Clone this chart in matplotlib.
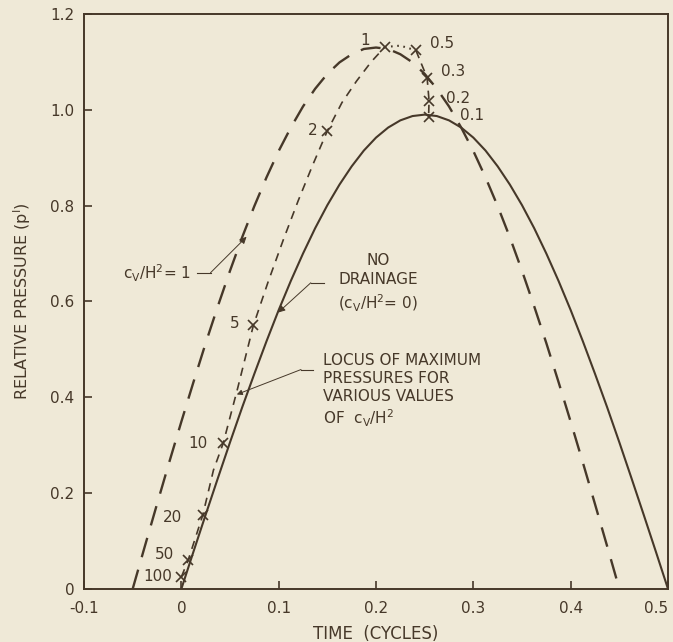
"""
Relative pressure vs time for several values of cv/H^2 (reproduced figure).
"""
import matplotlib
matplotlib.use('Agg')
import matplotlib.pyplot as plt

plt.rcParams['font.family'] = ['DejaVu Sans']
plt.rcParams['mathtext.fontset'] = 'dejavusans'

INK = '#463829'
PAPER = '#efe9d7'

# no drainage (cv/H^2 = 0)
t_nodrain = [0.0, 0.0125, 0.025, 0.0375, 0.05, 0.0625, 0.075, 0.0875, 0.1, 0.1125,
             0.125, 0.1375, 0.15, 0.1625, 0.175, 0.1875, 0.2, 0.2125, 0.225, 0.2375,
             0.25, 0.2625, 0.275, 0.2875, 0.3, 0.3125, 0.325, 0.3375, 0.35, 0.3625,
             0.375, 0.3875, 0.4, 0.4125, 0.425, 0.4375, 0.45, 0.4625, 0.475, 0.4875, 0.5]
p_nodrain = [0.0, 0.078, 0.155, 0.231, 0.306, 0.379, 0.449, 0.517, 0.582, 0.643,
             0.700, 0.753, 0.801, 0.844, 0.882, 0.915, 0.942, 0.963, 0.978, 0.987,
             0.990, 0.987, 0.978, 0.963, 0.942, 0.915, 0.882, 0.844, 0.801, 0.753,
             0.700, 0.643, 0.582, 0.517, 0.449, 0.379, 0.306, 0.231, 0.155, 0.078, 0.0]

# cv/H^2 = 1
t_c1 = [-0.05, -0.0375, -0.025, -0.0125, 0.0, 0.0125, 0.025, 0.0375, 0.05, 0.0625,
        0.075, 0.0875, 0.1, 0.1125, 0.125, 0.1375, 0.15, 0.1625, 0.175, 0.1875,
        0.2, 0.2125, 0.225, 0.2375, 0.25, 0.2625, 0.275, 0.2875, 0.3, 0.3125,
        0.325, 0.3375, 0.35, 0.3625, 0.375, 0.3875, 0.4, 0.4125, 0.425, 0.4375, 0.45]
p_c1 = [0.0, 0.089, 0.177, 0.264, 0.349, 0.432, 0.513, 0.590, 0.664, 0.734,
        0.799, 0.859, 0.914, 0.963, 1.007, 1.044, 1.075, 1.099, 1.116, 1.127,
        1.130, 1.127, 1.116, 1.099, 1.075, 1.044, 1.007, 0.963, 0.914, 0.859,
        0.799, 0.734, 0.664, 0.590, 0.513, 0.432, 0.349, 0.264, 0.177, 0.089, 0.0]

# locus of maximum pressures
t_locus = [0.0, 0.007, 0.022, 0.033, 0.043, 0.058, 0.074, 0.089, 0.105, 0.12,
           0.135, 0.15, 0.165, 0.18, 0.195, 0.209]
p_locus = [0.025, 0.06, 0.154, 0.248, 0.304, 0.42, 0.55, 0.64, 0.73, 0.81,
           0.885, 0.956, 1.015, 1.06, 1.10, 1.131]
t_locus_top = [0.209, 0.225, 0.241]
p_locus_top = [1.131, 1.134, 1.124]
t_locus_end = [0.241, 0.2525, 0.2545, 0.254]
p_locus_end = [1.124, 1.067, 1.019, 0.984]

# marked points and their cv/H^2 values
cross_t = [0.0, 0.007, 0.022, 0.043, 0.074, 0.15, 0.209, 0.241, 0.2525, 0.2545, 0.254]
cross_p = [0.025, 0.06, 0.154, 0.304, 0.55, 0.956, 1.131, 1.124, 1.067, 1.019, 0.984]
cross_lbl = ['100', '50', '20', '10', '5', '2', '1', '0.5', '0.3', '0.2', '0.1']
lbl_t = [-0.039, -0.027, -0.019, 0.007, 0.050, 0.130, 0.189, 0.255, 0.267, 0.272, 0.286]
lbl_p = [0.025, 0.071, 0.150, 0.304, 0.554, 0.956, 1.145, 1.138, 1.079, 1.023, 0.988]

xticks = [-0.1, 0.0, 0.1, 0.2, 0.3, 0.4, 0.5]
xtick_lbl = ['-0.1', '0', '0.1', '0.2', '0.3', '0.4', '0.5']
yticks = [0.0, 0.2, 0.4, 0.6, 0.8, 1.0, 1.2]
ytick_lbl = ['0', '0.2', '0.4', '0.6', '0.8', '1.0', '1.2']

fig = plt.figure(figsize=(6.73, 6.42), dpi=100, facecolor=PAPER)
ax = fig.add_axes([0.1248, 0.0826, 0.8678, 0.8956], facecolor=PAPER)

ax.plot(t_nodrain, p_nodrain, color=INK, lw=1.5, solid_capstyle='round')
l1, = ax.plot(t_c1, p_c1, color=INK, lw=1.7)
l1.set_dashes((8.5, 5.5))
ll, = ax.plot(t_locus, p_locus, color=INK, lw=1.2)
ll.set_dashes((5, 4))
ax.plot(t_locus_top, p_locus_top, color=INK, lw=1.5, linestyle=(0, (0.8, 2.2)))
le, = ax.plot(t_locus_end, p_locus_end, color=INK, lw=1.2)
le.set_dashes((5, 3.5))
ax.plot(cross_t, cross_p, linestyle='none', marker='x', ms=7, mew=1.2, color=INK)

for s, x, y in zip(cross_lbl, lbl_t, lbl_p):
    ha = 'center' if s == '1' else 'left'
    ax.text(x, y, s, ha=ha, va='center', fontsize=11, color=INK)

# cv/H^2 = 1 label with leader
ax.text(-0.0598, 0.658, r'c$_\mathrm{V}$/H$^2$= 1', ha='left', va='center',
        fontsize=11, color=INK)
ax.plot([0.016, 0.030], [0.660, 0.660], color=INK, lw=0.8)
ax.annotate('', xy=(0.067, 0.735), xytext=(0.030, 0.660),
            arrowprops=dict(arrowstyle='-|>', color=INK, lw=0.7,
                            mutation_scale=10, shrinkA=0, shrinkB=0))

# no drainage label
ax.text(0.202, 0.637, 'NO\nDRAINAGE\n' + r'(c$_\mathrm{V}$/H$^2$= 0)', ha='center',
        va='center', fontsize=11, color=INK, linespacing=1.35)
ax.plot([0.133, 0.147], [0.639, 0.639], color=INK, lw=0.8)
ax.annotate('', xy=(0.0995, 0.577), xytext=(0.133, 0.639),
            arrowprops=dict(arrowstyle='-|>', color=INK, lw=0.7,
                            mutation_scale=10, shrinkA=0, shrinkB=0))

# locus label
ax.text(0.1454, 0.4917, 'LOCUS OF MAXIMUM\nPRESSURES FOR\nVARIOUS VALUES\n'
        + r'OF  c$_\mathrm{V}$/H$^2$', ha='left', va='top', fontsize=11, color=INK,
        linespacing=1.22)
ax.plot([0.123, 0.135], [0.458, 0.458], color=INK, lw=0.8)
ax.annotate('', xy=(0.057, 0.406), xytext=(0.123, 0.458),
            arrowprops=dict(arrowstyle='-|>', color=INK, lw=0.7,
                            mutation_scale=8, shrinkA=0, shrinkB=0))

ax.set_xlim(-0.1, 0.5)
ax.set_ylim(0, 1.2)
ax.set_xticks(xticks)
ax.set_xticklabels(xtick_lbl)
ax.set_yticks(yticks)
ax.set_yticklabels(ytick_lbl)
ax.tick_params(direction='in', length=6, width=1.2, color=INK, labelcolor=INK,
               labelsize=11)
ax.tick_params(axis='x', pad=9)
ax.tick_params(axis='y', pad=7)
ax.get_xticklabels()[-1].set_horizontalalignment('right')
for sp in ax.spines.values():
    sp.set_color(INK)
    sp.set_linewidth(1.4)

ax.set_xlabel('TIME  (CYCLES)', fontsize=12, color=INK, labelpad=6)
ax.set_ylabel("RELATIVE PRESSURE (p$^\\mathrm{I}$)", fontsize=11.5, color=INK,
              labelpad=12)

fig.savefig('out.png', dpi=100, facecolor=PAPER)
